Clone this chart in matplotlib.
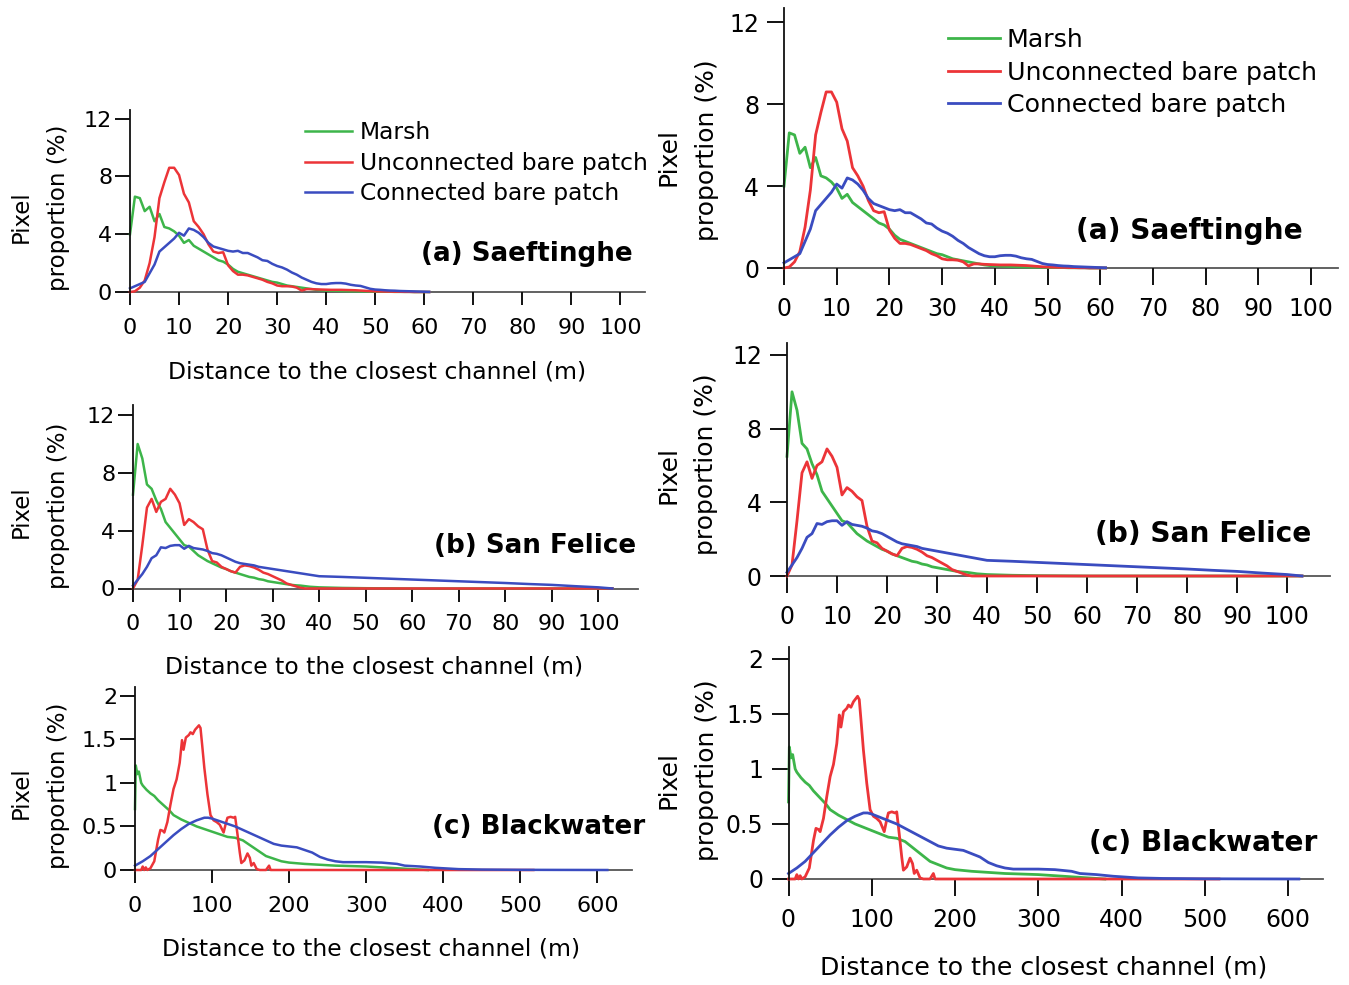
import matplotlib
matplotlib.use("Agg")
import matplotlib.pyplot as plt
from matplotlib.lines import Line2D

plt.rcParams['font.family'] = ['DejaVu Sans']

# ---------------- data ----------------
series_names = ["Marsh", "Unconnected bare patch", "Connected bare patch"]
titles = ["(a) Saeftinghe", "(b) San Felice", "(c) Blackwater"]
xlabel_text = "Distance to the closest channel (m)"

# (a) Saeftinghe, 1 m bins
sa_x = list(range(0, 62))
sa_marsh = [4.0, 6.6, 6.5, 5.6, 5.9, 4.9, 5.4, 4.5, 4.4, 4.2, 3.9, 3.4, 3.6, 3.2, 3.0, 2.8,
            2.6, 2.4, 2.2, 2.1, 1.9, 1.6, 1.4, 1.3, 1.2, 1.1, 1.0, 0.9, 0.8, 0.7, 0.65, 0.55,
            0.45, 0.4, 0.35, 0.3, 0.25, 0.2, 0.15, 0.12, 0.1, 0.09, 0.08, 0.07, 0.06, 0.05,
            0.05, 0.04, 0.04, 0.03, 0.03, 0.02, 0.02, 0.02, 0.01, 0.01, 0.01, 0.01, 0.0, 0.0,
            0.0, 0.0]
sa_unconn = [0.0, 0.05, 0.3, 0.8, 2.0, 3.8, 6.5, 7.6, 8.6, 8.6, 8.1, 6.8, 6.2, 4.9, 4.5, 4.0,
             3.3, 2.8, 2.7, 2.75, 1.85, 1.45, 1.2, 1.2, 1.15, 1.05, 0.95, 0.85, 0.7, 0.6, 0.45,
             0.4, 0.4, 0.38, 0.3, 0.1, 0.2, 0.2, 0.18, 0.17, 0.16, 0.15, 0.15, 0.15, 0.14, 0.13,
             0.12, 0.1, 0.08, 0.06, 0.05, 0.04, 0.03, 0.03, 0.02, 0.02, 0.01, 0.01, 0.0, 0.0,
             0.0, 0.0]
sa_conn = [0.25, 0.4, 0.55, 0.7, 1.3, 1.9, 2.8, 3.1, 3.4, 3.7, 4.1, 3.9, 4.4, 4.3, 4.1, 3.8,
           3.4, 3.15, 3.05, 2.95, 2.85, 2.8, 2.85, 2.7, 2.7, 2.55, 2.4, 2.2, 2.15, 1.95, 1.8,
           1.7, 1.55, 1.35, 1.2, 1.0, 0.85, 0.7, 0.6, 0.55, 0.55, 0.6, 0.62, 0.62, 0.58, 0.5,
           0.45, 0.42, 0.32, 0.22, 0.17, 0.15, 0.12, 0.1, 0.09, 0.07, 0.06, 0.05, 0.04, 0.03,
           0.02, 0.01]

# (b) San Felice
sf_x = list(range(0, 41)) + [45, 50, 55, 60, 65, 70, 75, 80, 85, 90, 95, 100, 103]
sf_marsh = [6.5, 10.0, 9.0, 7.2, 6.9, 6.1, 5.5, 4.6, 4.2, 3.8, 3.4, 3.0, 2.9, 2.6, 2.3, 2.1,
            1.9, 1.75, 1.6, 1.45, 1.35, 1.2, 1.1, 1.0, 0.9, 0.8, 0.75, 0.65, 0.6, 0.5, 0.45,
            0.4, 0.35, 0.3, 0.25, 0.22, 0.2, 0.16, 0.12, 0.1, 0.08,
            0.04, 0.02, 0.01, 0.0, 0.0, 0.0, 0.0, 0.0, 0.0, 0.0, 0.0, 0.0, 0.0]
sf_unconn = [0.0, 0.6, 3.0, 5.6, 6.2, 5.3, 6.0, 6.2, 6.9, 6.5, 5.9, 4.4, 4.8, 4.6, 4.3, 4.1,
             2.7, 1.9, 1.8, 1.5, 1.35, 1.2, 1.1, 1.5, 1.6, 1.55, 1.45, 1.3, 1.1, 1.0, 0.85,
             0.7, 0.55, 0.35, 0.25, 0.15, 0.05, 0.0, 0.0, 0.0, 0.0,
             0.0, 0.0, 0.0, 0.0, 0.0, 0.0, 0.0, 0.0, 0.0, 0.0, 0.0, 0.0, 0.0]
sf_conn = [0.2, 0.6, 1.0, 1.5, 2.1, 2.3, 2.85, 2.8, 2.95, 3.0, 3.0, 2.75, 2.95, 2.8, 2.75, 2.7,
           2.6, 2.45, 2.4, 2.3, 2.15, 2.0, 1.85, 1.75, 1.7, 1.65, 1.6, 1.5, 1.45, 1.4, 1.35,
           1.3, 1.25, 1.2, 1.15, 1.1, 1.05, 1.0, 0.95, 0.9, 0.85,
           0.8, 0.74, 0.68, 0.62, 0.56, 0.5, 0.44, 0.38, 0.31, 0.25, 0.16, 0.08, 0.0]

# (c) Blackwater
bw_marsh_x = [0, 1, 3, 5, 8, 10, 15, 20, 25, 30, 35, 40, 45, 50, 60, 70, 80, 90, 100, 110,
              120, 130, 140, 150, 160, 170, 180, 190, 200, 220, 240, 260, 280, 300, 330, 360, 380]
bw_marsh = [0.7, 1.2, 1.1, 1.13, 1.0, 0.97, 0.92, 0.88, 0.85, 0.8, 0.76, 0.72, 0.68, 0.63, 0.58,
            0.54, 0.5, 0.47, 0.44, 0.41, 0.38, 0.37, 0.34, 0.28, 0.22, 0.16, 0.13, 0.1, 0.085,
            0.07, 0.06, 0.05, 0.045, 0.04, 0.025, 0.01, 0.0]
bw_unconn_x = [0, 8, 10, 12, 14, 16, 20, 25, 30, 33, 36, 38, 42, 46, 50, 54, 58, 61, 63, 66, 70,
               72, 75, 78, 81, 83, 85, 87, 90, 94, 98, 102, 106, 110, 115, 118, 120, 124, 128,
               130, 133, 136, 138, 142, 146, 149, 151, 154, 158, 162, 170, 174, 176, 200, 300,
               400, 517]
bw_unconn = [0.0, 0.0, 0.04, 0.0, 0.03, 0.0, 0.02, 0.1, 0.35, 0.46, 0.45, 0.43, 0.55, 0.75, 0.93,
             1.04, 1.23, 1.49, 1.38, 1.52, 1.55, 1.58, 1.56, 1.61, 1.64, 1.66, 1.63, 1.45, 1.17,
             0.87, 0.63, 0.57, 0.55, 0.52, 0.43, 0.54, 0.6, 0.61, 0.6, 0.61, 0.41, 0.2, 0.08,
             0.11, 0.19, 0.14, 0.05, 0.08, 0.01, 0.0, 0.0, 0.05, 0.0, 0.0, 0.0, 0.0, 0.0]
bw_conn_x = [0, 10, 20, 30, 40, 50, 60, 70, 80, 90, 95, 100, 110, 120, 130, 140, 150, 160, 170,
             180, 190, 200, 210, 220, 230, 240, 250, 260, 270, 280, 300, 320, 340, 350, 370, 390,
             420, 450, 500, 550, 613]
bw_conn = [0.05, 0.1, 0.16, 0.24, 0.32, 0.4, 0.47, 0.53, 0.57, 0.6, 0.6, 0.59, 0.56, 0.53, 0.5,
           0.46, 0.42, 0.38, 0.34, 0.3, 0.28, 0.27, 0.26, 0.23, 0.2, 0.15, 0.12, 0.1, 0.09, 0.09,
           0.09, 0.085, 0.07, 0.05, 0.04, 0.025, 0.01, 0.005, 0.002, 0.001, 0.0]

sites = [
    ([sa_x, sa_x, sa_x], [sa_marsh, sa_unconn, sa_conn]),
    ([sf_x, sf_x, sf_x], [sf_marsh, sf_unconn, sf_conn]),
    ([bw_marsh_x, bw_unconn_x, bw_conn_x], [bw_marsh, bw_unconn, bw_conn]),
]
xticks_small = [0, 10, 20, 30, 40, 50, 60, 70, 80, 90, 100]
xticks_large = [0, 100, 200, 300, 400, 500, 600]
yticks_pct = [0, 4, 8, 12]
yticks_bw = [0, 0.5, 1, 1.5, 2]
yticklabels_bw = ["0", "0.5", "1", "1.5", "2"]

# ---------------- style / layout ----------------
colors = ["#3db54a", "#ec3438", "#3a4cc0"]
W, H = 1349, 985
fig = plt.figure(figsize=(W / 100, H / 100), dpi=100)


def fx(px):
    return px / W


def fy(py):
    return 1 - py / H


# axes boxes in pixels: (x0, x_end, y_bottom, y_top, xmax, ymax)
left_boxes = [(130, 645, 292, 110, 105, 12.6),
              (133, 638, 588.5, 405, 108.5, 12.7),
              (135, 632, 870, 687, 645, 2.1)]
right_boxes = [(784, 1338, 268, 8, 105.1, 12.7),
               (787, 1330, 576, 343, 108.6, 12.65),
               (788.5, 1323, 879, 646.7, 642, 2.11)]

col_style = {
    "L": dict(tick=16, lw=1.8, xtl=9.4, ytl=10.8, xpad=9, ypad=2, lab=16.5, title=18.8, leg=16.8),
    "R": dict(tick=17, lw=2.0, xtl=12.5, ytl=12.0, xpad=8.5, ypad=6, lab=18, title=20.2, leg=18.2),
}

left_texts = dict(
    pixel=[(21, 216.5), (21, 512), (21, 793)],
    prop=[(58, 207.5), (58, 506), (58, 786)],
    title=[(633, 254), (636, 546), (645, 827)],
    xlab=[(377.5, 372), (374, 667), (371.5, 949)],
)
right_texts = dict(
    pixel=[(669, 157), (668, 475), (668, 780)],
    prop=[(707, 150), (706, 464), (707, 770)],
    title=[(1303, 231), (1311, 534), (1317, 843)],
    xlab=[None, None, (1043.5, 968)],
)

for col, boxes, texts in (("L", left_boxes, left_texts), ("R", right_boxes, right_texts)):
    st = col_style[col]
    for i, (box, (xs, ys)) in enumerate(zip(boxes, sites)):
        x0, x1, yb, yt, xmax, ymax = box
        ax = fig.add_axes([fx(x0), fy(yb), (x1 - x0) / W, (yb - yt) / H])
        for xv, yv, c, name in zip(xs, ys, colors, series_names):
            ax.plot(xv, yv, color=c, lw=st["lw"], label=name, solid_joinstyle="round",
                    clip_on=False)
        ax.set_xlim(0, xmax)
        ax.set_ylim(0, ymax)
        for s in ("top", "right"):
            ax.spines[s].set_visible(False)
        ax.spines["left"].set_color("#111111")
        ax.spines["left"].set_linewidth(1.3)
        ax.spines["bottom"].set_color("#555555")
        ax.spines["bottom"].set_linewidth(1.3)
        ax.spines["bottom"].set_zorder(0.5)
        if i < 2:
            ax.set_xticks(xticks_small)
            ax.set_yticks(yticks_pct)
        else:
            ax.set_xticks(xticks_large)
            ax.set_yticks(yticks_bw)
            ax.set_yticklabels(yticklabels_bw)
        ax.tick_params(axis="x", direction="out", length=st["xtl"], width=1.4,
                       labelsize=st["tick"], pad=st["xpad"], color="#111111")
        ax.tick_params(axis="y", direction="out", length=st["ytl"], width=1.4,
                       labelsize=st["tick"], pad=st["ypad"], color="#111111")
        ax.patch.set_alpha(0)

        px_, py_ = texts["pixel"][i]
        fig.text(fx(px_), fy(py_), "Pixel", rotation=90, ha="center", va="center",
                 fontsize=st["lab"])
        px_, py_ = texts["prop"][i]
        fig.text(fx(px_), fy(py_), "proportion (%)", rotation=90, ha="center", va="center",
                 fontsize=st["lab"])
        tx, ty = texts["title"][i]
        fig.text(fx(tx), fy(ty), titles[i], ha="right", va="center",
                 fontsize=st["title"], fontweight="bold")
        if texts["xlab"][i] is not None:
            lx, ly = texts["xlab"][i]
            fig.text(fx(lx), fy(ly), xlabel_text, ha="center", va="center",
                     fontsize=st["lab"] + (0.4 if col == "L" else 0.1))

        if i == 0:
            if col == "L":
                anchor = (fx(305), fy(121))
                hl, htp, ls = 2.0, 0.34, 0.33
            else:
                anchor = (fx(948), fy(28))
                hl, htp, ls = 2.05, 0.28, 0.34
            handles = [Line2D([], [], color=c, lw=st["lw"]) for c in colors]
            fig.legend(handles, series_names, loc="upper left", bbox_to_anchor=anchor,
                       bbox_transform=fig.transFigure, frameon=False, borderpad=0,
                       borderaxespad=0, handlelength=hl, handletextpad=htp,
                       labelspacing=ls, fontsize=st["leg"])

fig.savefig("out.png", dpi=100)
